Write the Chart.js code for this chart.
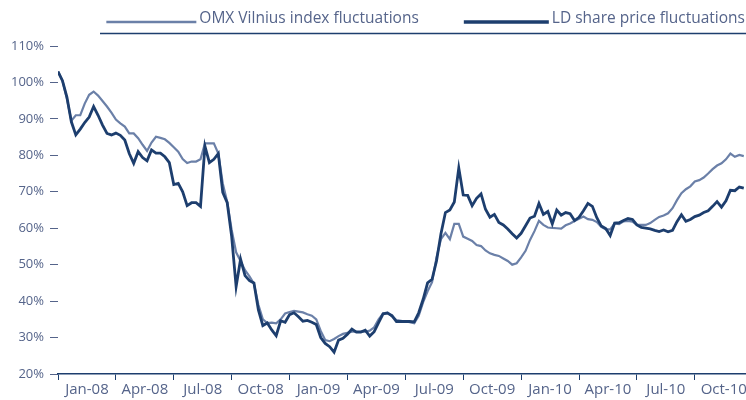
<!DOCTYPE html>
<html>
<head>
<meta charset="utf-8">
<script src="https://cdn.jsdelivr.net/npm/chart.js@4.4.1/dist/chart.umd.min.js"></script>
<style>
  html, body { margin: 0; padding: 0; background: #fff; }
  #wrap { position: relative; width: 746px; height: 400px; }
</style>
</head>
<body>
<div id="wrap"><canvas id="chart"></canvas></div>
<script>
// weekly values, first week of Jan 2008 .. mid Dec 2010 (index 100 = start)
const ldShare = [
  103, 100.5, 96, 89.2, 85.6, 87.2, 89, 90.5, 93.4, 91,
  88.3, 86, 85.6, 86.1, 85.5, 84.2, 80.5, 77.8, 81, 79.4,
  78.5, 81.5, 80.6, 80.6, 79.6, 78, 72, 72.3, 70, 66.2,
  67, 67, 66, 82.5, 78, 78.9, 80.5, 69.8, 67, 57.7,
  44, 51.5, 47, 45.6, 45, 37.6, 33.3, 34, 32.1, 30.5,
  34.6, 34.2, 36.3, 36.8, 35.7, 34.5, 34.7, 34.2, 33.6, 30,
  28.4, 27.5, 26, 29.3, 29.8, 30.9, 32.3, 31.5, 31.5, 32,
  30.4, 31.6, 34.1, 36.5, 36.7, 36, 34.4, 34.4, 34.4, 34.4,
  34.3, 36.8, 40.5, 45, 46, 51, 58.5, 64.3, 65, 67.2,
  76.5, 69.1, 69, 66.2, 68.2, 69.4, 65.2, 63, 63.8, 61.6,
  60.9, 59.8, 58.5, 57.3, 58.6, 60.7, 62.8, 63.3, 66.8, 63.8,
  64.6, 61.2, 65, 63.6, 64.3, 64, 62.1, 63, 64.8, 66.8,
  66, 62.9, 60.6, 59.9, 58, 61.4, 61.5, 62.1, 62.7, 62.4,
  60.9, 60.2, 60, 59.8, 59.4, 59.1, 59.5, 59, 59.4, 61.8,
  63.7, 61.9, 62.4, 63.2, 63.6, 64.3, 64.8, 66, 67.3, 65.8,
  67.5, 70.4, 70.3, 71.3, 71
];
const omxVilnius = [
  103, 100.5, 95.5, 89.5, 91, 91, 94.2, 96.6, 97.5, 96.4,
  94.9, 93.4, 91.7, 89.8, 88.8, 87.9, 86, 86, 84.7, 82.9,
  81.2, 83.5, 85.1, 84.8, 84.4, 83.4, 82.2, 81, 79, 77.9,
  78.3, 78.3, 78.9, 83.3, 83.3, 83.3, 80.5, 72.3, 67.2, 59.5,
  53.4, 51, 48.5, 46.8, 44.8, 39, 35, 34, 34.1, 33.9,
  35, 36.6, 37, 37.3, 37.1, 36.9, 36.4, 36, 35, 31.8,
  29.3, 29, 29.6, 30.4, 31, 31.3, 31.6, 31.6, 31.6, 31.6,
  31.9, 32.8, 35, 36.6, 36.9, 35.8, 34.8, 34.6, 34.4, 34.2,
  33.9, 36, 39.7, 42.7, 45.2, 52, 57, 58.7, 57, 61.2,
  61.2, 57.7, 57.1, 56.5, 55.4, 55.1, 53.9, 53.1, 52.7, 52.4,
  51.7, 51, 50, 50.4, 52, 53.8, 56.8, 59.2, 62, 60.9,
  60.2, 60.1, 60, 59.9, 60.8, 61.3, 62, 62.6, 63.2, 62.5,
  62.3, 61.7, 60.4, 59.7, 59.7, 61.3, 61.1, 61.9, 62, 61.8,
  60.9, 60.9, 60.9, 61.4, 62.3, 63.1, 63.5, 64.1, 65.5, 67.7,
  69.6, 70.7, 71.5, 72.8, 73.2, 73.9, 75, 76.2, 77.2, 77.8,
  78.9, 80.5, 79.6, 80.1, 79.8
];
const quarterLabels = ['Jan-08', 'Apr-08', 'Jul-08', 'Oct-08', 'Jan-09', 'Apr-09',
  'Jul-09', 'Oct-09', 'Jan-10', 'Apr-10', 'Jul-10', 'Oct-10'];
const yTicks = [20, 30, 40, 50, 60, 70, 80, 90, 100, 110];

const WEEKS_PER_QUARTER = 13;
const LAST_WEEK = 154.5;
const TEXT = '#55648a';
const OMX_COLOR = '#6b80a8';
const LD_COLOR = '#1d3e6e';
const FONT = '"Open Sans", "Noto Sans", sans-serif';

const toPoints = arr => arr.map((v, i) => ({ x: i, y: v }));

// legend drawn on the canvas above the plot, right aligned, with the rule under it
const topLegend = {
  id: 'topLegend',
  afterDraw(chart) {
    const ctx = chart.ctx;
    ctx.save();
    ctx.font = '15.5px ' + FONT;
    ctx.textBaseline = 'middle';
    ctx.fillStyle = TEXT;
    const items = [
      { text: chart.data.datasets[1].label, color: OMX_COLOR, w: 2.5, len: 90 },
      { text: chart.data.datasets[0].label, color: LD_COLOR, w: 3.5, len: 85 }
    ];
    let right = 745;
    for (let i = items.length - 1; i >= 0; i--) {
      const it = items[i];
      const tw = ctx.measureText(it.text).width;
      const tx = right - tw;
      ctx.textAlign = 'left';
      ctx.fillText(it.text, tx, 19);
      ctx.strokeStyle = it.color;
      ctx.lineWidth = it.w;
      ctx.beginPath();
      ctx.moveTo(tx - 3 - it.len, 22);
      ctx.lineTo(tx - 3, 22);
      ctx.stroke();
      right = tx - 3 - it.len - 45;
    }
    ctx.strokeStyle = LD_COLOR;
    ctx.lineWidth = 1.5;
    ctx.beginPath();
    ctx.moveTo(100, 33.5);
    ctx.lineTo(746, 33.5);
    ctx.stroke();
    ctx.restore();
  }
};

new Chart(document.getElementById('chart'), {
  type: 'line',
  data: {
    datasets: [
      {
        label: 'LD share price fluctuations',
        data: toPoints(ldShare),
        borderColor: LD_COLOR,
        borderWidth: 2.8,
        pointRadius: 0,
        tension: 0,
        order: 0
      },
      {
        label: 'OMX Vilnius index fluctuations',
        data: toPoints(omxVilnius),
        borderColor: OMX_COLOR,
        borderWidth: 2.2,
        pointRadius: 0,
        tension: 0,
        order: 1
      }
    ]
  },
  options: {
    responsive: true,
    maintainAspectRatio: false,
    animation: false,
    layout: { padding: { top: 46, right: 0, left: 0, bottom: 0 } },
    plugins: {
      legend: { display: false },
      tooltip: { enabled: false }
    },
    scales: {
      x: {
        type: 'linear',
        min: 0,
        max: LAST_WEEK,
        afterBuildTicks: s => {
          s.ticks = quarterLabels.map((_, i) => ({ value: i * WEEKS_PER_QUARTER }));
        },
        afterFit: s => { s.height = 6; },
        ticks: { display: false },
        grid: { drawOnChartArea: false, tickLength: 6, color: LD_COLOR, lineWidth: 1 },
        border: { display: true, color: LD_COLOR, width: 1.5 }
      },
      xLabels: {
        type: 'linear',
        position: 'bottom',
        min: 0,
        max: LAST_WEEK,
        afterBuildTicks: s => {
          s.ticks = quarterLabels.map((_, i) => ({ value: i * WEEKS_PER_QUARTER + WEEKS_PER_QUARTER / 2 }));
        },
        afterFit: s => { s.height = 20; s.paddingLeft = 0; s.paddingRight = 0; },
        ticks: {
          autoSkip: false,
          maxRotation: 0,
          padding: 1,
          color: TEXT,
          font: { family: FONT, size: 15 },
          callback: (v, i) => quarterLabels[i]
        },
        grid: { display: false, drawTicks: false },
        border: { display: false }
      },
      y: {
        min: 20,
        max: 110,
        afterBuildTicks: s => { s.ticks = yTicks.map(v => ({ value: v })); },
        afterFit: s => { s.width = 58; },
        ticks: {
          color: TEXT,
          padding: 6,
          font: { family: FONT, size: 13 },
          callback: v => v + '%'
        },
        grid: { drawOnChartArea: false, tickLength: 8, color: TEXT, lineWidth: 1 },
        border: { display: false }
      }
    }
  },
  plugins: [topLegend]
});
</script>
</body>
</html>
